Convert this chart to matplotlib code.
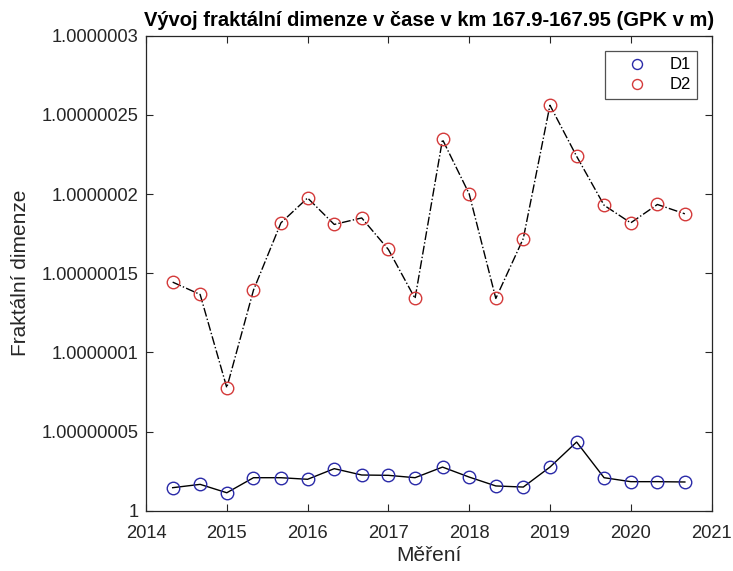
import numpy as np
import matplotlib
matplotlib.use("Agg")
import matplotlib.pyplot as plt
from matplotlib.ticker import FuncFormatter

plt.rcParams['font.family'] = ['Liberation Sans', 'DejaVu Sans']

# measurement times (years)
t = [2014.33, 2014.67, 2015.0, 2015.33, 2015.67, 2016.0, 2016.33, 2016.67,
     2017.0, 2017.33, 2017.67, 2018.0, 2018.33, 2018.67, 2019.0, 2019.33,
     2019.67, 2020.0, 2020.33, 2020.67]
# fractal dimension offsets from 1 (units of 1e-8)
d1_off = [1.47, 1.68, 1.15, 2.10, 2.10, 2.00, 2.67, 2.27, 2.25, 2.10,
          2.77, 2.14, 1.58, 1.51, 2.77, 4.35, 2.10, 1.85, 1.85, 1.83]
d2_off = [14.44, 13.66, 7.78, 13.93, 18.18, 19.75, 18.08, 18.49, 16.50, 13.41,
          23.44, 20.01, 13.41, 17.19, 25.60, 22.38, 19.29, 18.18, 19.34, 18.75]
D1 = 1.0 + np.array(d1_off) * 1e-8
D2 = 1.0 + np.array(d2_off) * 1e-8

title = "Vývoj fraktální dimenze v čase v km 167.9-167.95 (GPK v m)"
xlabel = "Měření"
ylabel = "Fraktální dimenze"
yticks = 1.0 + np.array([0, 5, 10, 15, 20, 25, 30]) * 1e-8
xticks = [2014, 2015, 2016, 2017, 2018, 2019, 2020, 2021]

fig = plt.figure(figsize=(7.33, 5.71), dpi=100)
ax = fig.add_axes([0.1992, 0.1051, 0.7715, 0.8327])

gray = '#262626'
ax.plot(t, D1, 'o', mfc='none', mec='#2a2aa8', ms=9, mew=1.0, label='D1', zorder=3)
ax.plot(t, D2, 'o', mfc='none', mec='#d43a3a', ms=9, mew=1.0, label='D2', zorder=3)
ax.plot(t, D1, '-', color='black', lw=1.0, zorder=2)
ax.plot(t, D2, '-.', color='black', lw=1.0, zorder=2)

ax.set_xlim(2014, 2021)
ax.set_ylim(yticks[0], yticks[-1])
ax.set_xticks(xticks)
ax.set_yticks(yticks)

def fmt(v, pos):
    return f"{v:.8f}".rstrip('0').rstrip('.')
ax.yaxis.set_major_formatter(FuncFormatter(fmt))

ax.tick_params(direction='in', length=5, width=0.8, top=True, right=True,
               labelsize=13.2, colors=gray, labelcolor=gray)
ax.tick_params(axis='x', pad=10)
ax.tick_params(axis='y', pad=5.5)
for sp in ax.spines.values():
    sp.set_color(gray)
    sp.set_linewidth(0.9)

ax.set_title(title, fontsize=14.5, fontweight='bold', color='black', pad=7)
ax.set_xlabel(xlabel, fontsize=15, color=gray, labelpad=3)
ax.set_ylabel(ylabel, fontsize=15, color=gray, labelpad=8)

leg = ax.legend(loc='upper right', bbox_to_anchor=(0.975, 0.968), borderaxespad=0,
                fontsize=12, frameon=True, fancybox=False, markerscale=0.8,
                edgecolor=gray, borderpad=0.4, handletextpad=0.45,
                handlelength=3.0, labelspacing=0.3)
leg.get_frame().set_linewidth(0.9)

fig.savefig('out.png', dpi=100)
